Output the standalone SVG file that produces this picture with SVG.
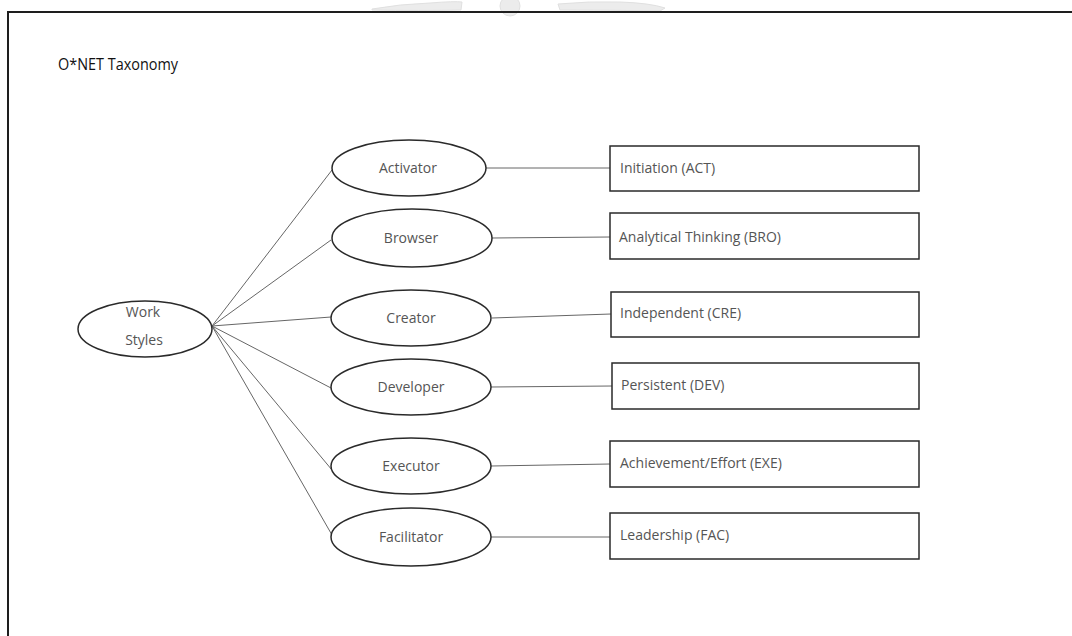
<svg xmlns="http://www.w3.org/2000/svg" width="1072" height="636" viewBox="0 0 1072 636">
  <style>
    .frame { fill: none; stroke: #1e1e1e; stroke-width: 2; }
    .title { font-family: "Open Sans", "Noto Sans", sans-serif; font-size: 17px; fill: #111; }
    .oval { fill: #fff; stroke: #2a2a2a; stroke-width: 1.5; }
    .box { fill: #fff; stroke: #2a2a2a; stroke-width: 1.5; }
    .olabel { font-family: "Open Sans", "Noto Sans", sans-serif; font-size: 14px; fill: #555; text-anchor: middle; }
    .blabel { font-family: "Open Sans", "Noto Sans", sans-serif; font-size: 14px; fill: #555; }
    .link { fill: none; stroke: #666; stroke-width: 1; }
    .seal { fill: #ececec; stroke: #e0e0e0; stroke-width: 1; }
  </style>

  <rect width="1072" height="636" fill="#fff"/>

  <!-- faint emblem above the frame -->
  <g id="emblem">
    <path class="seal" d="M372 9 Q400 4 430 3 Q455 1 462 2 L461 10 Q420 11 372 10 Z"/>
    <circle class="seal" cx="510" cy="6" r="10"/>
    <path class="seal" d="M558 4 Q590 1 620 2 Q650 3 665 8 L660 11 Q610 10 560 10 Z"/>
  </g>

  <!-- page frame (open to the right and bottom) -->
  <path class="frame" d="M1080 12 H8 V650"/>

  <text class="title" x="58" y="70" textLength="120" lengthAdjust="spacingAndGlyphs">O*NET Taxonomy</text>

  <!-- connectors -->
  <g id="connectors">
    <line class="link" x1="212" y1="326" x2="332" y2="170"/>
    <line class="link" x1="212" y1="326" x2="331" y2="240"/>
    <line class="link" x1="212" y1="326" x2="331" y2="317"/>
    <line class="link" x1="212" y1="326" x2="331" y2="388"/>
    <line class="link" x1="212" y1="326" x2="332" y2="470"/>
    <line class="link" x1="212" y1="326" x2="332" y2="535"/>

    <line class="link" x1="485" y1="168" x2="610" y2="168"/>
    <line class="link" x1="492" y1="238" x2="610" y2="237"/>
    <line class="link" x1="492" y1="318" x2="611" y2="314"/>
    <line class="link" x1="491" y1="387" x2="612" y2="386"/>
    <line class="link" x1="491" y1="466" x2="610" y2="464"/>
    <line class="link" x1="491" y1="537" x2="610" y2="537"/>
  </g>

  <g id="work-styles">
    <ellipse class="oval" cx="145" cy="329" rx="67" ry="28"/>
    <text class="olabel" x="143" y="317">Work</text>
    <text class="olabel" x="144" y="345">Styles</text>
  </g>

  <g id="activator">
    <ellipse class="oval" cx="409" cy="168" rx="77" ry="28"/>
    <text class="olabel" x="408" y="173">Activator</text>
  </g>
  <g id="browser">
    <ellipse class="oval" cx="412" cy="238" rx="80" ry="29"/>
    <text class="olabel" x="411" y="243">Browser</text>
  </g>
  <g id="creator">
    <ellipse class="oval" cx="411" cy="318" rx="80" ry="28"/>
    <text class="olabel" x="411" y="323">Creator</text>
  </g>
  <g id="developer">
    <ellipse class="oval" cx="411" cy="387" rx="80" ry="28"/>
    <text class="olabel" x="411" y="392">Developer</text>
  </g>
  <g id="executor">
    <ellipse class="oval" cx="411" cy="466" rx="80" ry="28"/>
    <text class="olabel" x="411" y="471">Executor</text>
  </g>
  <g id="facilitator">
    <ellipse class="oval" cx="411" cy="537" rx="80" ry="29"/>
    <text class="olabel" x="411" y="542">Facilitator</text>
  </g>

  <g id="initiation">
    <rect class="box" x="610" y="146" width="309" height="45"/>
    <text class="blabel" x="620" y="173">Initiation (ACT)</text>
  </g>
  <g id="analytical-thinking">
    <rect class="box" x="610" y="213" width="309" height="46"/>
    <text class="blabel" x="619" y="242">Analytical Thinking (BRO)</text>
  </g>
  <g id="independent">
    <rect class="box" x="611" y="292" width="308" height="45"/>
    <text class="blabel" x="620" y="318">Independent (CRE)</text>
  </g>
  <g id="persistent">
    <rect class="box" x="612" y="363" width="307" height="46"/>
    <text class="blabel" x="621" y="390">Persistent (DEV)</text>
  </g>
  <g id="achievement-effort">
    <rect class="box" x="610" y="441" width="309" height="46"/>
    <text class="blabel" x="620" y="468">Achievement/Effort (EXE)</text>
  </g>
  <g id="leadership">
    <rect class="box" x="610" y="513" width="309" height="46"/>
    <text class="blabel" x="620" y="540">Leadership (FAC)</text>
  </g>
</svg>
